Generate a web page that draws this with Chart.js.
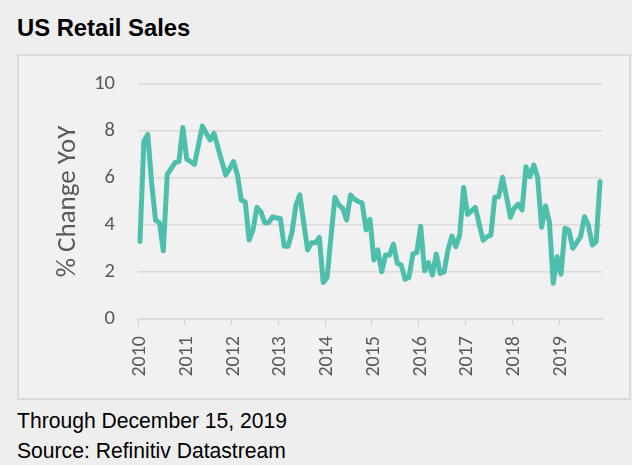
<!DOCTYPE html>
<html>
<head>
<meta charset="utf-8">
<script src="https://cdn.jsdelivr.net/npm/chart.js@4/dist/chart.umd.min.js"></script>
<style>
body{margin:0;width:632px;height:465px;overflow:hidden;background:#eeeeee;font-family:"Liberation Sans",Arial,sans-serif;position:relative}
#title{position:absolute;left:17px;top:16px;font-weight:bold;font-size:23.8px;line-height:1;color:#000;white-space:nowrap}
.note{position:absolute;left:17px;font-size:22px;line-height:1;color:#000;white-space:nowrap;transform:scaleX(0.96);transform-origin:left top}
#box{position:absolute;left:17px;top:54px;width:614px;height:346px;box-sizing:border-box;border:2px solid #dadada;background:#f1f1f1}
#salesChart{position:absolute;left:0;top:0}
</style>
</head>
<body>
<div id="title">US Retail Sales</div>
<div id="box"></div>
<canvas id="salesChart" width="632" height="400"></canvas>
<div class="note" style="top:410px">Through December 15, 2019</div>
<div class="note" style="top:440px">Source: Refinitiv Datastream</div>
<script>
// monthly YoY % change, Jan 2010 - Nov 2019
const years = ['2010','2011','2012','2013','2014','2015','2016','2017','2018','2019'];
const y2010 = [3.3, 7.55, 7.85, 5.8, 4.2, 4.1, 2.9, 6.15, 6.4, 6.65, 6.7, 8.15];
const y2011 = [6.8, 6.7, 6.58, 7.4, 8.21, 7.9, 7.62, 7.9, 7.3, 6.7, 6.13, 6.4];
const y2012 = [6.7, 6.13, 5.06, 4.99, 3.36, 3.79, 4.75, 4.57, 4.1, 4.1, 4.35, 4.3];
const y2013 = [4.28, 3.1, 3.1, 3.7, 4.85, 5.28, 4.1, 2.94, 3.25, 3.25, 3.47, 1.55];
const y2014 = [1.77, 3.5, 5.18, 4.85, 4.71, 4.21, 5.28, 5.1, 5.0, 4.93, 3.79, 4.24];
const y2015 = [2.51, 2.94, 2.01, 2.72, 2.72, 3.19, 2.37, 2.3, 1.69, 1.77, 2.77, 2.82];
const y2016 = [3.95, 2.05, 2.4, 1.87, 2.77, 1.94, 2.0, 2.94, 3.53, 3.08, 3.57, 5.6];
const y2017 = [4.45, 4.6, 4.75, 4.05, 3.35, 3.5, 3.57, 5.18, 5.2, 6.03, 5.2, 4.33];
const y2018 = [4.71, 4.89, 4.64, 6.48, 6.06, 6.55, 6.03, 3.9, 4.81, 4.14, 1.52, 2.65];
const y2019 = [1.91, 3.86, 3.79, 3.01, 3.25, 3.5, 4.35, 4.0, 3.15, 3.29, 5.84];
const yTicks = [0, 2, 4, 6, 8, 10];

const values = [].concat(y2010, y2011, y2012, y2013, y2014, y2015, y2016, y2017, y2018, y2019);
const months = values.map((v, i) => years[Math.floor(i / 12)] + '-' + String(i % 12 + 1).padStart(2, '0'));

const fontFamily = 'Carlito, Lato, sans-serif';
const gridGrey = '#d9d9d9';

new Chart(document.getElementById('salesChart'), {
  type: 'line',
  data: { labels: months, datasets: [{ data: values, borderColor: '#4fbfad', borderWidth: 5, pointRadius: 0, tension: 0, borderJoinStyle: 'round', borderCapStyle: 'round' }] },
  options: {
    responsive: false, animation: false,
    layout: { padding: { top: 84, right: 30, bottom: 0, left: 0 } },
    plugins: { legend: { display: false }, tooltip: { enabled: false } },
    scales: {
      x: {
        type: 'category', offset: true,
        grid: { offset: true, drawOnChartArea: false, tickLength: 7, tickWidth: 1.5,
          tickColor: ctx => (ctx.index !== undefined && ctx.index % 12 === 0) ? gridGrey : 'rgba(0,0,0,0)' },
        border: { color: gridGrey, width: 1.5 },
        ticks: { autoSkip: false, minRotation: 90, maxRotation: 90, padding: 10, color: '#595959', font: { family: fontFamily, size: 20 },
          callback: (v, i) => i % 12 === 0 ? years[i / 12] : '' },
        // fixed axis height, no extra side padding from the rotated labels
        afterFit: s => { s.height = 81; s.paddingLeft = 0; s.paddingRight = 0; }
      },
      y: {
        min: 0, max: 10,
        afterBuildTicks: s => { s.ticks = yTicks.map(v => ({ value: v })); },
        grid: { color: gridGrey, lineWidth: 1.5, drawTicks: false },
        border: { display: false },
        ticks: { padding: 23, color: '#595959', font: { family: fontFamily, size: 20.5 } },
        title: { display: true, text: '% Change YoY', color: '#595959', font: { family: fontFamily, size: 27 }, padding: { top: 52, bottom: 0 } },
        afterFit: s => { s.width = 138; }
      }
    }
  }
});
</script>
</body>
</html>
